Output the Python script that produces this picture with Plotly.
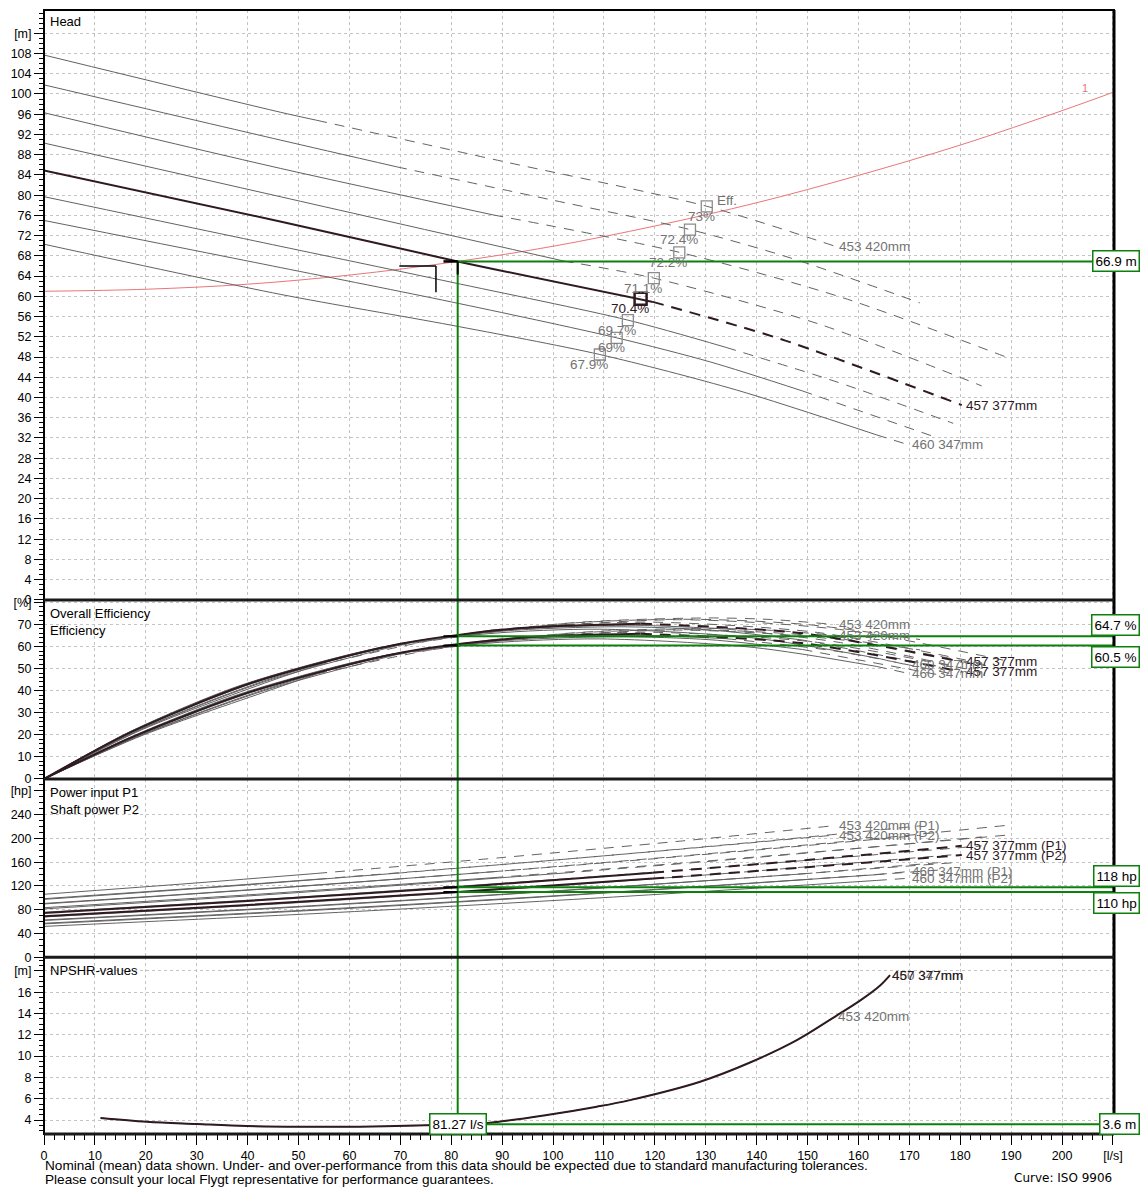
import plotly.graph_objects as go

# ---------------- data ----------------
IMPELLERS = ["453 420mm", "", "", "", "457 377mm", "", "", "460 347mm"]
SELECTED = 4

HEAD_Q = [
    [0, 46.4, 53.6, 90, 130.2, 155.4],
    [0, 46.4, 69.3, 100, 126.9, 146.6, 172.1],
    [0, 46.4, 88.2, 124.8, 157, 189.8],
    [0, 46.4, 102, 119.8, 152, 184.2],
    [0, 46.4, 81.27, 119.6, 144.6, 180.3],
    [0, 46.4, 80, 114.7, 134, 156, 178.6],
    [0, 46.4, 80, 112.5, 131, 149, 175.6],
    [0, 46.4, 80, 109.2, 136, 163.6, 169.7],
]
HEAD_H = [
    [107.7, 96.4, 94.8, 86.7, 77.8, 69.9],
    [101.8, 90.9, 85.6, 79.0, 73.2, 67.6, 58.7],
    [96.3, 85.3, 76.1, 68.7, 59.7, 47.7],
    [90.3, 79.7, 67.0, 63.6, 54.6, 42.3],
    [84.9, 74.8, 66.9, 58.9, 51.6, 38.5],
    [79.7, 69.9, 62.8, 55.3, 49.9, 43.0, 34.9],
    [75.0, 65.7, 58.9, 51.8, 47.0, 41.3, 32.0],
    [70.3, 60.4, 54.3, 48.5, 41.5, 32.6, 30.7],
]
HEAD_SPLIT = [2, 2, 2, 2, 3, 4, 5, 5]

BEP_Q = [130.2, 126.9, 124.8, 119.8, 117.2, 114.7, 112.5, 109.2]
BEP_H = [77.8, 73.2, 68.7, 63.6, 59.5, 55.3, 51.8, 48.5]
BEP_TXT = ["73%", "72.4%", "72.2%", "71.1%", "70.4%", "69.7%", "69%", "67.9%"]

EFF_Q = [
    [0, 19.5, 45.6, 53.6, 78.1, 104.2, 130.2, 142.8, 155.4],
    [0, 19.0, 44.4, 69.3, 101.5, 126.9, 149.5, 172.1],
    [0, 18.7, 43.7, 65, 88.2, 124.8, 157.3, 189.8],
    [0, 18.0, 41.9, 71.9, 102, 119.8, 152.0, 184.2],
    [0, 17.6, 41.0, 70.3, 93.8, 117.2, 148.8, 180.3],
    [0, 17.2, 40.1, 68.8, 91.8, 114.7, 134, 156, 178.6],
    [0, 16.9, 39.4, 67.5, 90.0, 112.5, 131, 149, 175.6],
    [0, 16.4, 38.2, 65.5, 87.4, 109.2, 139.5, 163.6, 169.7],
]
EFF_HYD = [
    [0, 22.6, 45.3, 51.4, 63.7, 70.9, 73.0, 72.3, 70.0],
    [0, 22.4, 44.9, 60.4, 70.3, 72.4, 70.1, 63.2],
    [0, 22.3, 44.8, 58.6, 67.6, 72.2, 67.5, 53.2],
    [0, 22.0, 44.1, 62.0, 70.0, 71.1, 66.4, 52.4],
    [0, 21.8, 43.7, 61.4, 68.4, 70.4, 66.1, 53.1],
    [0, 21.6, 43.3, 60.8, 67.7, 69.7, 68.0, 62.0, 51.3],
    [0, 21.3, 42.8, 60.2, 67.0, 69.0, 67.5, 63.0, 51.1],
    [0, 20.9, 42.1, 59.3, 65.9, 67.9, 63.9, 54.8, 51.7],
]
EFF_OVR = [
    [0, 19.9, 41.2, 47.6, 59.4, 66.3, 68.3, 67.4, 65.1],
    [0, 19.7, 40.9, 56.4, 65.7, 67.7, 65.3, 58.5],
    [0, 19.6, 40.8, 54.7, 63.2, 67.5, 62.9, 49.2],
    [0, 19.4, 40.1, 57.9, 65.5, 66.5, 61.9, 48.5],
    [0, 19.2, 39.8, 57.3, 64.0, 65.8, 61.6, 48.6],
    [0, 19.0, 39.4, 56.7, 63.3, 65.2, 63.6, 57.8, 47.5],
    [0, 18.7, 38.9, 56.2, 62.6, 64.5, 63.1, 58.7, 47.3],
    [0, 18.4, 38.3, 55.3, 61.6, 63.5, 59.6, 51.0, 47.9],
]
EFF_SPLIT = [3, 3, 4, 4, 5, 6, 7, 7]

POW_Q = [
    [0, 30, 53.6, 90, 125, 155.4],
    [0, 35, 69.3, 105, 140, 172.1],
    [0, 45, 88.2, 125, 160, 189.8],
    [0, 50, 102, 140, 184.2],
    [0, 40, 81.27, 119.6, 150, 180.3],
    [0, 45, 90, 134, 178.6],
    [0, 50, 100, 149, 175.6],
    [0, 55, 110, 163.6, 169.7],
]
POW_P1 = [
    [106.0, 125.1, 141.1, 167.8, 195.4, 221.5],
    [97.4, 118.7, 141.4, 166.9, 194.0, 221.0],
    [89.7, 115.9, 143.9, 170.2, 197.0, 222.5],
    [81.4, 108.9, 141.6, 168.0, 202.5],
    [74.5, 94.7, 118.0, 142.4, 163.8, 187.5],
    [67.8, 89.3, 113.9, 141.0, 172.5],
    [61.9, 84.6, 111.0, 140.3, 159.1],
    [56.2, 79.9, 107.9, 139.0, 144.2],
]
POW_P2 = [
    [98.6, 116.4, 131.3, 156.1, 181.8, 205.6],
    [90.6, 110.4, 131.5, 155.3, 180.5, 205.2],
    [83.4, 107.8, 133.9, 158.3, 183.3, 206.0],
    [75.7, 101.3, 131.7, 156.3, 187.4],
    [69.0, 88.1, 110.0, 132.4, 151.6, 172.0],
    [62.8, 83.1, 106.0, 131.1, 159.0],
    [57.3, 78.7, 103.3, 130.5, 146.6],
    [52.0, 74.3, 100.4, 129.3, 132.9],
]
POW_SPLIT = [2, 2, 2, 2, 3, 3, 3, 3]

NPSH_Q = [11.1, 20.2, 30, 39.8, 50.3, 62, 75, 81.27, 87.6, 98.8, 108.6, 115.1,
          128.9, 138.7, 147.9, 155.7, 160.3, 164.2, 166.2]
NPSH_M = [4.2, 3.84, 3.63, 3.44, 3.37, 3.38, 3.5, 3.6, 3.75, 4.47, 5.25, 5.87,
          7.6, 9.4, 11.5, 13.8, 15.2, 16.6, 17.6]
NPSH1_Q = [11.1, 20.2, 30, 39.8, 50.3, 62, 75, 87.6, 98.8, 108.6, 115.1,
           128.9, 138.7, 147.9, 155.4]
NPSH1_M = [4.2, 3.84, 3.63, 3.44, 3.37, 3.38, 3.5, 3.75, 4.47, 5.25, 5.87,
           7.6, 9.4, 11.5, 13.7]

SYS_Q = [0, 20, 40, 60, 81.27, 100, 120, 140, 160, 180, 200, 210.2]
SYS_H = [61.0, 61.4, 62.4, 64.2, 66.9, 69.9, 73.9, 78.5, 83.9, 89.9, 96.7, 100.4]

DUTY_Q = 81.27
DUTY_H = 66.9
DUTY_EFF = [64.7, 60.5]
DUTY_POW = [118, 110]
DUTY_NPSH = 3.6

X_TICKS = list(range(0, 211, 10))
X_TEXT = [str(v) for v in range(0, 201, 10)] + ["[l/s]"]
HEAD_TICKS = list(range(0, 113, 4))
HEAD_TEXT = [str(v) for v in range(0, 109, 4)] + ["[m]"]
EFF_TICKS = list(range(0, 81, 10))
EFF_TEXT = [str(v) for v in range(0, 71, 10)] + ["[%]"]
POW_TICKS = list(range(0, 281, 40))
POW_TEXT = [str(v) for v in range(0, 241, 40)] + ["[hp]"]
NPSH_TICKS = list(range(4, 19, 2))
NPSH_TEXT = [str(v) for v in range(4, 17, 2)] + ["[m]"]

# ---------------- styling ----------------
FONT = "Liberation Sans, Arial, sans-serif"
GRAY = "#626262"
LGRAY = "#737373"
SEL = "#2e1a1f"
GREEN = "#0c800c"
RED = "#e8767a"
XMAX = 210.2

fig = go.Figure()


def add_curve(xa, ya, q, v, split, selected):
    col = SEL if selected else GRAY
    w = 2 if selected else 1
    dash = "11px,8px" if selected else "10px,8px"
    fig.add_trace(go.Scatter(x=q[:split + 1], y=v[:split + 1], xaxis=xa, yaxis=ya,
                             mode="lines", hoverinfo="skip", showlegend=False,
                             line=dict(color=col, width=w, shape="spline", smoothing=0.8)))
    fig.add_trace(go.Scatter(x=q[split:], y=v[split:], xaxis=xa, yaxis=ya,
                             mode="lines", hoverinfo="skip", showlegend=False,
                             line=dict(color=col, width=w, dash=dash, shape="spline",
                                       smoothing=0.8)))


order = [i for i in range(8) if i != SELECTED] + [SELECTED]

# system curve
fig.add_trace(go.Scatter(x=SYS_Q, y=SYS_H, xaxis="x", yaxis="y", mode="lines",
                         hoverinfo="skip", showlegend=False,
                         line=dict(color=RED, width=1, shape="spline")))

for i in order:
    sel = i == SELECTED
    add_curve("x", "y", HEAD_Q[i], HEAD_H[i], HEAD_SPLIT[i], sel)
    add_curve("x2", "y2", EFF_Q[i], EFF_HYD[i], EFF_SPLIT[i], sel)
    add_curve("x2", "y2", EFF_Q[i], EFF_OVR[i], EFF_SPLIT[i], sel)
    add_curve("x3", "y3", POW_Q[i], POW_P1[i], POW_SPLIT[i], sel)
    add_curve("x3", "y3", POW_Q[i], POW_P2[i], POW_SPLIT[i], sel)

# NPSH
fig.add_trace(go.Scatter(x=NPSH1_Q, y=NPSH1_M, xaxis="x4", yaxis="y4", mode="lines",
                         hoverinfo="skip", showlegend=False,
                         line=dict(color=GRAY, width=1, shape="spline", smoothing=1.0)))
fig.add_trace(go.Scatter(x=NPSH_Q, y=NPSH_M, xaxis="x4", yaxis="y4", mode="lines",
                         hoverinfo="skip", showlegend=False,
                         line=dict(color=SEL, width=2, shape="spline", smoothing=1.0)))

# BEP boxes
for i in order:
    sel = i == SELECTED
    fig.add_trace(go.Scatter(x=[BEP_Q[i]], y=[BEP_H[i]], xaxis="x", yaxis="y", mode="markers",
                             hoverinfo="skip", showlegend=False,
                             marker=dict(symbol="square-open", size=12 if sel else 11,
                                         color=SEL if sel else "#8c8c8c",
                                         line=dict(width=2.5 if sel else 1.3))))

# ---------------- shapes ----------------
shapes = []


def seg(xref, yref, x0, y0, x1, y1, color, width):
    shapes.append(dict(type="line", xref=xref, yref=yref, x0=x0, y0=y0, x1=x1, y1=y1,
                       line=dict(color=color, width=width), layer="above"))


# green duty lines
seg("x", "y", DUTY_Q, 0, DUTY_Q, DUTY_H, GREEN, 2)
seg("x2", "y2 domain", DUTY_Q, 0, DUTY_Q, 1, GREEN, 2)
seg("x3", "y3 domain", DUTY_Q, 0, DUTY_Q, 1, GREEN, 2)
seg("x4", "y4", DUTY_Q, DUTY_NPSH, DUTY_Q, 19.27, GREEN, 2)
seg("x", "y", DUTY_Q, DUTY_H, XMAX, DUTY_H, GREEN, 2)
for v in DUTY_EFF:
    seg("x2", "y2", DUTY_Q, v, XMAX, v, GREEN, 2)
    seg("x2", "y2", DUTY_Q - 2.8, v, DUTY_Q, v, "black", 2)
for v in DUTY_POW:
    seg("x3", "y3", DUTY_Q, v, XMAX, v, GREEN, 2)
    seg("x3", "y3", DUTY_Q - 2.8, v, DUTY_Q, v, "black", 2)
seg("x4", "y4", DUTY_Q, DUTY_NPSH, XMAX, DUTY_NPSH, GREEN, 2)
# black tolerance marks at the duty point
seg("x", "y", DUTY_Q - 2.8, DUTY_H, DUTY_Q, DUTY_H, "black", 2.5)
seg("x", "y", DUTY_Q, DUTY_H, DUTY_Q, DUTY_H - 2.6, "black", 2)
seg("x", "y", 69.8, 66.0, 77.0, 66.0, "black", 1.5)
seg("x", "y", 77.0, 66.0, 77.0, 60.8, "black", 1.5)

# frame and panel separators
D = [0.0, 0.1572, 0.3159, 0.4752, 1.0]
shapes.append(dict(type="rect", xref="paper", yref="paper", x0=0, y0=0, x1=1, y1=1,
                   line=dict(color="black", width=2), layer="above"))
seg("paper", "paper", 1, 0, 1, 1, "black", 3)
for d in D[1:4]:
    seg("paper", "paper", 0, d, 1, d, "#1a1a1a", 3)
seg("paper", "paper", 0, 0, 1, 0, "#1a1a1a", 3)

# ---------------- annotations ----------------
ann = []


def text(xref, yref, x, y, s, color="black", size=13.5, xanchor="left", yanchor="middle",
         xshift=0, yshift=0, family=FONT):
    ann.append(dict(xref=xref, yref=yref, x=x, y=y, text=s, showarrow=False,
                    xanchor=xanchor, yanchor=yanchor, xshift=xshift, yshift=yshift,
                    font=dict(family=family, size=size, color=color)))


def gbox(xref, yref, x, y, s, xanchor="right", yanchor="middle"):
    ann.append(dict(xref=xref, yref=yref, x=x, y=y, text=s, showarrow=False,
                    xanchor=xanchor, yanchor=yanchor, bgcolor="white",
                    bordercolor=GREEN, borderwidth=1.5, borderpad=2,
                    font=dict(family=FONT, size=13.5, color="black")))


# panel titles
text("x domain", "y domain", 0, 1, "Head", yanchor="top", xshift=4, yshift=-2, size=13)
text("x2 domain", "y2 domain", 0, 1, "Overall Efficiency", yanchor="top", xshift=4, yshift=-4, size=13)
text("x2 domain", "y2 domain", 0, 1, "Efficiency", yanchor="top", xshift=4, yshift=-21, size=13)
text("x3 domain", "y3 domain", 0, 1, "Power input P1", yanchor="top", xshift=4, yshift=-4, size=13)
text("x3 domain", "y3 domain", 0, 1, "Shaft power P2", yanchor="top", xshift=4, yshift=-21, size=13)
text("x4 domain", "y4 domain", 0, 1, "NPSHR-values", yanchor="top", xshift=4, yshift=-4, size=13)

# efficiency labels at BEP boxes
text("x", "y", BEP_Q[0], BEP_H[0], "Eff.", color=LGRAY, xshift=8, yshift=6)
for i in range(8):
    text("x", "y", BEP_Q[i], BEP_H[i], BEP_TXT[i], color=SEL if i == SELECTED else LGRAY,
         xanchor="right", xshift=10, yshift=-10)

# curve end labels
for i in (0, SELECTED, 7):
    col = SEL if i == SELECTED else LGRAY
    name = IMPELLERS[i]
    text("x", "y", HEAD_Q[i][-1], HEAD_H[i][-1], name, color=col, xshift=2)
    text("x2", "y2", EFF_Q[i][-1], EFF_HYD[i][-1], name, color=col, xshift=2)
    text("x2", "y2", EFF_Q[i][-1], EFF_OVR[i][-1], name, color=col, xshift=2)
    text("x3", "y3", POW_Q[i][-1], POW_P1[i][-1], name + " (P1)", color=col, xshift=2)
    text("x3", "y3", POW_Q[i][-1], POW_P2[i][-1], name + " (P2)", color=col, xshift=2)
text("x4", "y4", NPSH1_Q[-1], NPSH1_M[-1], IMPELLERS[0], color=LGRAY, xshift=1)
text("x4", "y4", NPSH_Q[-1], NPSH_M[-1], IMPELLERS[7], color=LGRAY, xshift=0)
text("x4", "y4", NPSH_Q[-1], NPSH_M[-1], IMPELLERS[SELECTED], color=SEL, xshift=0)

# system curve label
text("x", "y", 204.5, 101.2, "1", color=RED, size=11, xanchor="center")

# green value boxes
BX = 1.0243
gbox("paper", "y", BX, DUTY_H, "66.9 m")
gbox("paper", "y2", BX, DUTY_EFF[0], "64.7 %", yanchor="bottom")
gbox("paper", "y2", BX, DUTY_EFF[1], "60.5 %", yanchor="top")
gbox("paper", "y3", BX, DUTY_POW[0], "118 hp", yanchor="bottom")
gbox("paper", "y3", BX, DUTY_POW[1], "110 hp", yanchor="top")
gbox("paper", "y4", BX, DUTY_NPSH, "3.6 m")
gbox("x4", "y4", DUTY_Q, DUTY_NPSH, "81.27 l/s", xanchor="center")

# footer
text("paper", "paper", 0, -0.0284,
     "Nominal (mean) data shown. Under- and over-performance from this data should be expected due to standard manufacturing tolerances.",
     size=13.6, xshift=-1)
text("paper", "paper", 0, -0.0408,
     "Please consult your local Flygt representative for performance guarantees.",
     size=13.6, xshift=-1)
text("paper", "paper", 1.0, -0.0390, "Curve: ISO 9906", size=12, xanchor="right",
     family="DejaVu Sans, Verdana, sans-serif")

# ---------------- axes ----------------
grid = dict(showgrid=True, gridcolor="#c4c4c4", griddash="dot", gridwidth=1, zeroline=False,
            showline=False)


def xax(anchor, domain_ticks):
    ax = dict(grid, anchor=anchor, domain=[0, 1], range=[0, XMAX], tickmode="array",
              tickvals=X_TICKS, fixedrange=True)
    if domain_ticks:
        ax.update(ticktext=X_TEXT, ticks="outside", ticklen=10, tickcolor="black",
                  tickwidth=1, tickfont=dict(family=FONT, size=12.5, color="black"),
                  minor=dict(tickmode="linear", tick0=0, dtick=2, ticks="outside",
                             ticklen=5, tickcolor="black", showgrid=False))
    else:
        ax.update(showticklabels=False, ticks="")
    return ax


def yax(anchor, dom, rng, tv, tt, mdt):
    return dict(grid, anchor=anchor, domain=dom, range=rng, tickmode="array", tickvals=tv,
                ticktext=tt, ticks="outside", ticklen=9, tickcolor="black", tickwidth=1,
                tickfont=dict(family=FONT, size=12.5, color="black"), fixedrange=True,
                minor=dict(tickmode="linear", tick0=0, dtick=mdt, ticks="outside",
                           ticklen=4, tickcolor="black", showgrid=False))


fig.update_layout(
    width=1148, height=1188,
    margin=dict(l=44, r=34, t=6, b=54, pad=0),
    paper_bgcolor="white", plot_bgcolor="white",
    showlegend=False,
    font=dict(family=FONT, size=13, color="black"),
    xaxis=xax("y", False),
    xaxis2=xax("y2", False),
    xaxis3=xax("y3", False),
    xaxis4=xax("y4", True),
    yaxis=yax("x", [D[3], D[4]], [0, 116.6], HEAD_TICKS, HEAD_TEXT, 1),
    yaxis2=yax("x2", [D[2], D[3]], [0, 81.2], EFF_TICKS, EFF_TEXT, 2),
    yaxis3=yax("x3", [D[1], D[2]], [0, 300], POW_TICKS, POW_TEXT, 10),
    yaxis4=yax("x4", [D[0], D[1]], [2.69, 19.27], NPSH_TICKS, NPSH_TEXT, 0.5),
    shapes=shapes,
    annotations=ann,
)

fig.write_html("out.html", config={"displayModeBar": False},
               post_script="document.body.style.margin='0px';document.body.style.overflow='hidden';")
